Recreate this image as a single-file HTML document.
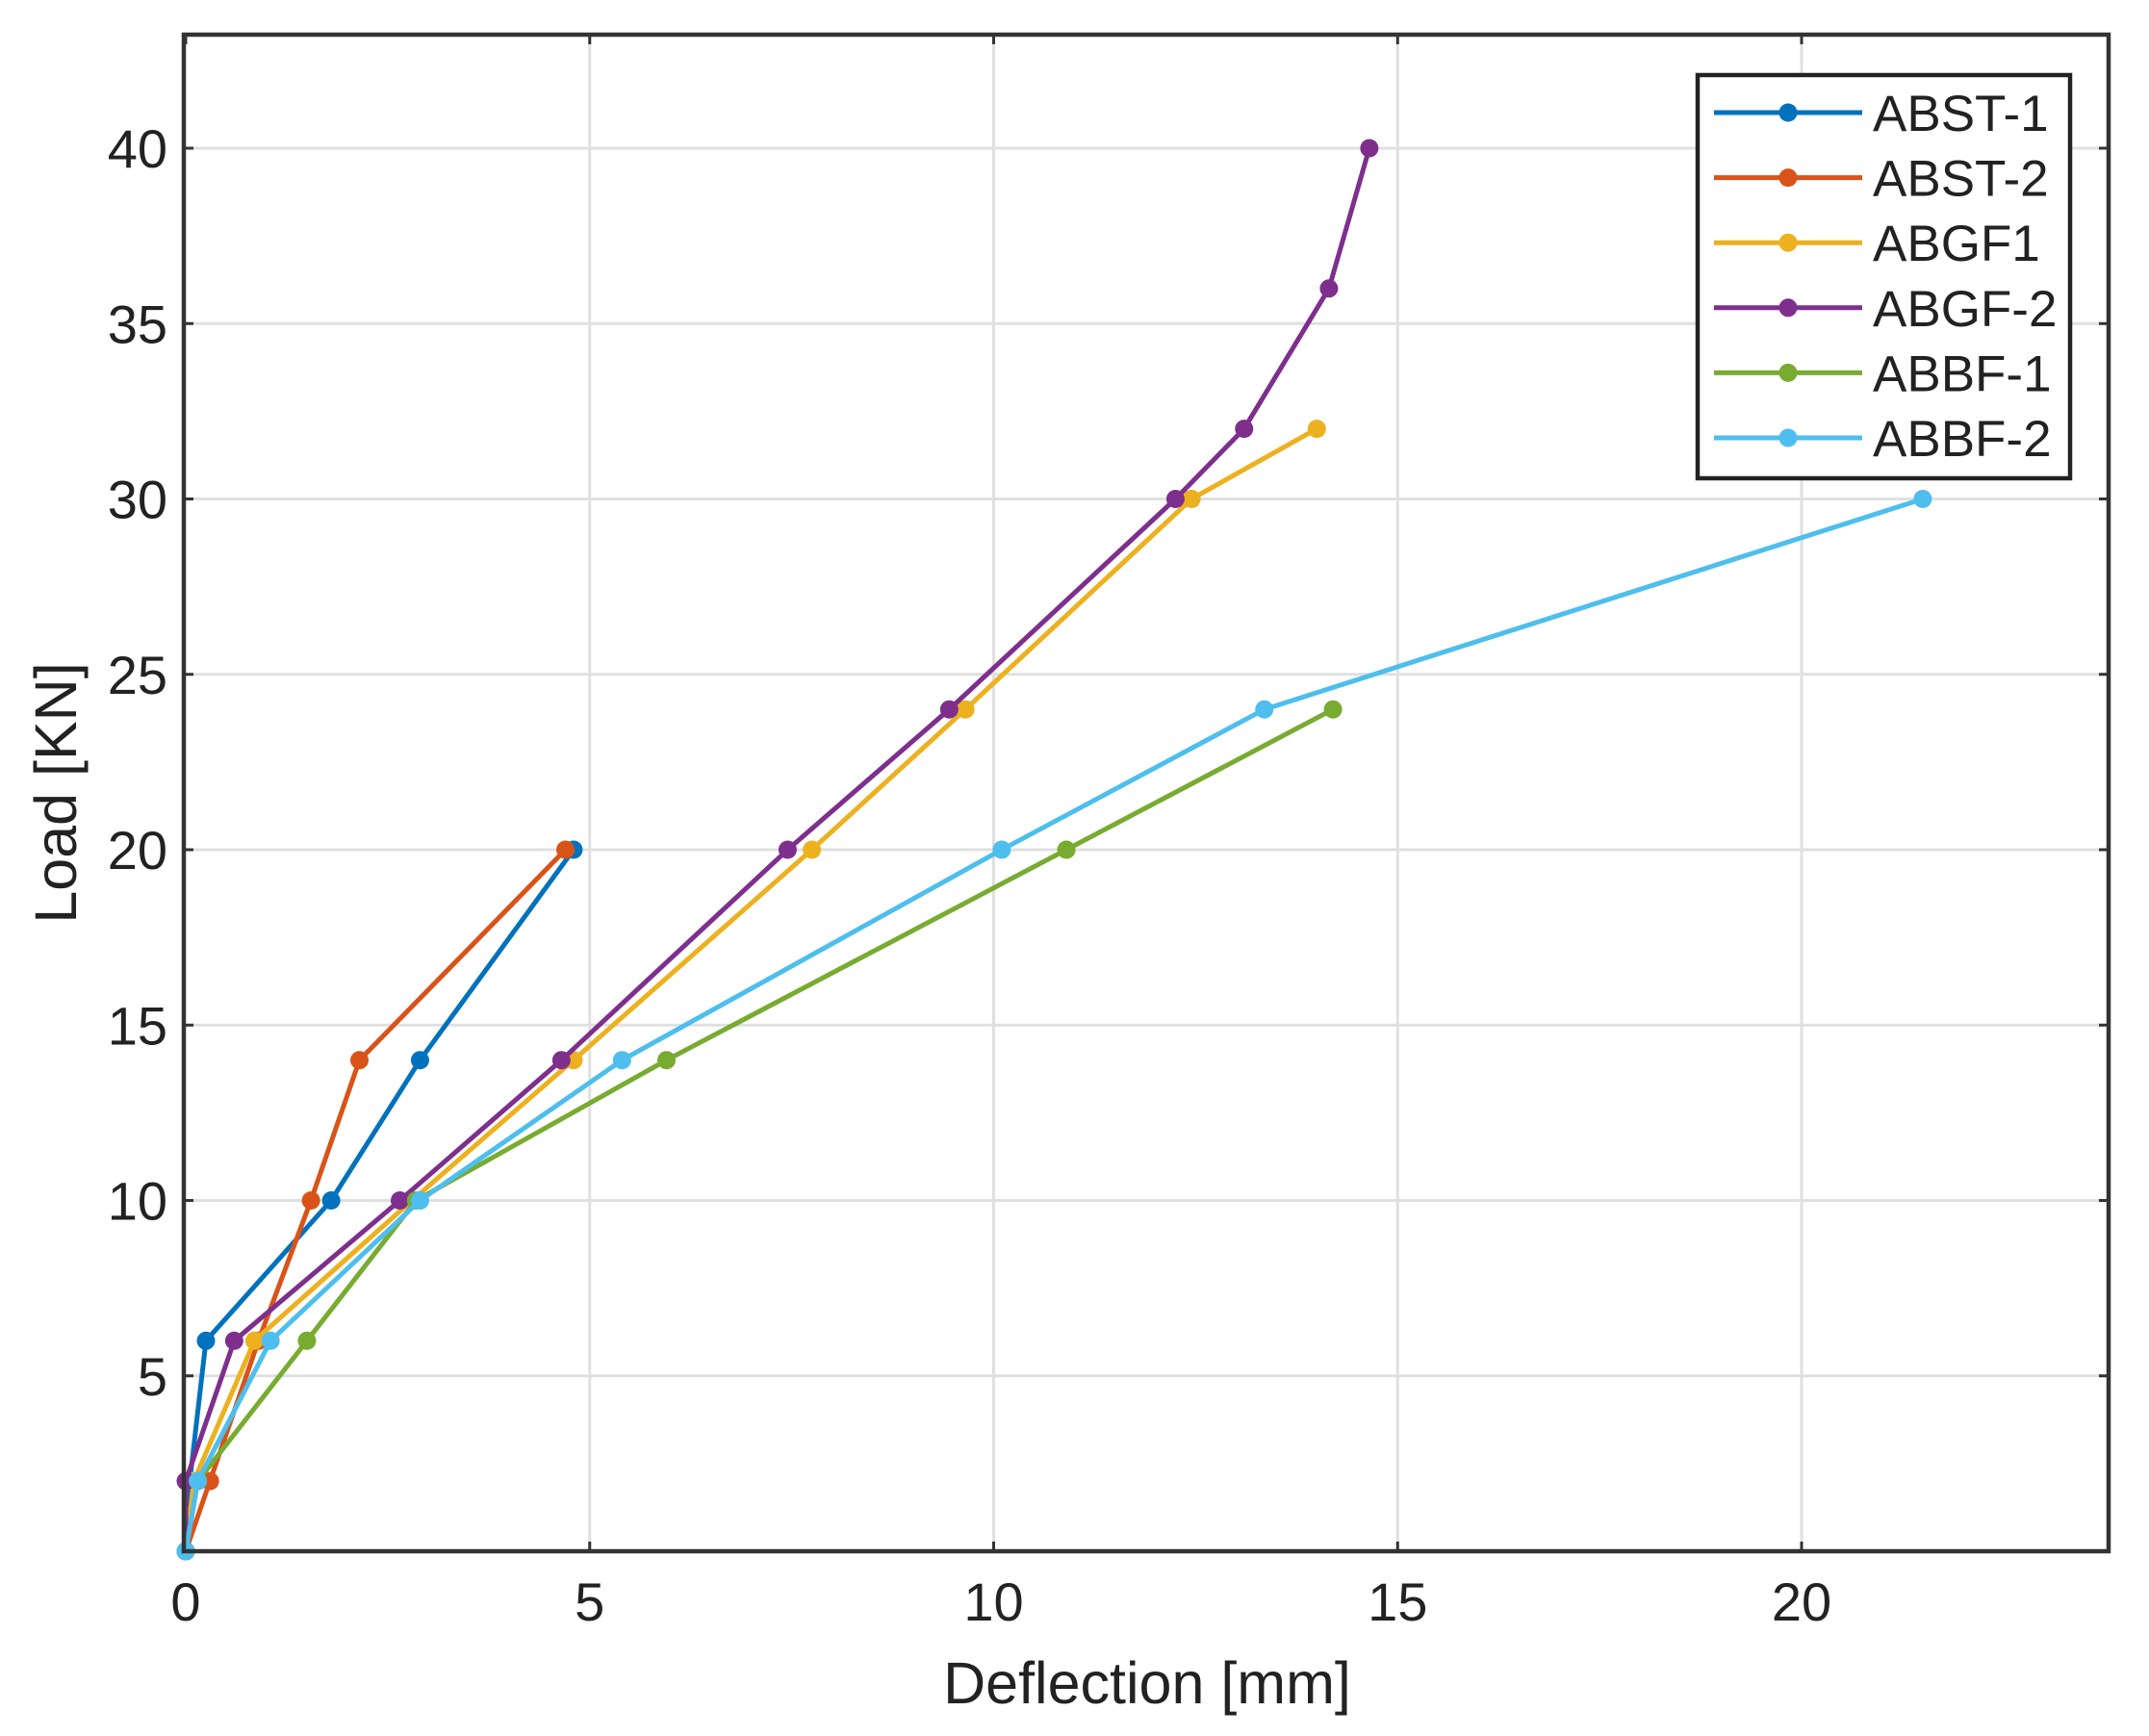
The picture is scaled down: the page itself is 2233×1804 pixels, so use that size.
<!DOCTYPE html>
<html><head><meta charset="utf-8"><style>
html,body{margin:0;padding:0;background:#fff;}
svg{display:block;}
text{font-family:"Liberation Sans",Arial,sans-serif;fill:#222;}
</style></head><body>
<svg id="s" width="2233" height="1804" viewBox="0 0 2233 1804" xmlns="http://www.w3.org/2000/svg"></svg>
<script>
const s=document.getElementById('s');
const X0=193,Y0=1612,SX=83.95,SY=36.45,L=191,R=2191,T=36,B=1612;
const px=x=>X0+x*SX, py=y=>Y0-y*SY;
let h='<rect x="0" y="0" width="2233" height="1804" fill="#fff"/>';
for(let x=5;x<=20;x+=5)h+=`<line x1="${px(x)}" y1="${T}" x2="${px(x)}" y2="${B}" stroke="#e0e0e0" stroke-width="3"/>`;
for(let y=5;y<=40;y+=5)h+=`<line x1="${L}" y1="${py(y)}" x2="${R}" y2="${py(y)}" stroke="#e0e0e0" stroke-width="3"/>`;
for(let x=0;x<=20;x+=5){h+=`<line x1="${px(x)}" y1="${B}" x2="${px(x)}" y2="${B-10}" stroke="#333" stroke-width="3"/><line x1="${px(x)}" y1="${T}" x2="${px(x)}" y2="${T+10}" stroke="#333" stroke-width="3"/>`;
 h+=`<text x="${px(x)}" y="1684" font-size="56" text-anchor="middle">${x}</text>`;}
for(let y=5;y<=40;y+=5){h+=`<line x1="${L}" y1="${py(y)}" x2="${L+10}" y2="${py(y)}" stroke="#333" stroke-width="3"/><line x1="${R}" y1="${py(y)}" x2="${R-10}" y2="${py(y)}" stroke="#333" stroke-width="3"/>`;
 h+=`<text x="174" y="${py(y)+20}" font-size="56" text-anchor="end">${y}</text>`;}
const C=['#0072BD','#D95319','#EDB120','#7E2F8E','#77AC30','#4DBEEE'];
const D=[
[[0,0],[0.05,2],[0.25,6],[1.8,10],[2.9,14],[4.8,20]],
[[0,0],[0.3,2],[0.9,6],[1.55,10],[2.15,14],[4.7,20]],
[[0,0],[0.1,2],[0.85,6],[2.8,10],[4.8,14],[7.75,20],[9.65,24],[12.45,30],[14,32]],
[[0,0],[0,2],[0.6,6],[2.65,10],[4.65,14],[7.45,20],[9.45,24],[12.25,30],[13.1,32],[14.15,36],[14.65,40]],
[[0,0],[0.15,2],[1.5,6],[2.85,10],[5.95,14],[10.9,20],[14.2,24]],
[[0,0],[0.15,2],[1.05,6],[2.9,10],[5.4,14],[10.1,20],[13.35,24],[21.5,30]]];
D.forEach((d,i)=>{h+=`<polyline fill="none" stroke="${C[i]}" stroke-width="5" stroke-linejoin="round" points="${d.map(p=>px(p[0])+','+py(p[1])).join(' ')}"/>`;
 d.forEach(p=>h+=`<circle cx="${px(p[0])}" cy="${py(p[1])}" r="9.5" fill="${C[i]}"/>`);});
h+=`<rect x="${L}" y="${T}" width="${R-L}" height="${B-T}" fill="none" stroke="#333" stroke-width="4.5"/>`;
h+=`<rect x="1764" y="78" width="387" height="419" fill="#fff" stroke="#222" stroke-width="4.5"/>`;
const N=['ABST-1','ABST-2','ABGF1','ABGF-2','ABBF-1','ABBF-2'];
N.forEach((n,i)=>{const y=117+i*67.6;h+=`<line x1="1781" y1="${y}" x2="1935" y2="${y}" stroke="${C[i]}" stroke-width="5"/><circle cx="1858" cy="${y}" r="9.5" fill="${C[i]}"/><text x="1946" y="${y+19}" font-size="53" fill="#111">${n}</text>`;});
h+=`<text x="1192" y="1770" font-size="61" text-anchor="middle">Deflection [mm]</text>`;
h+=`<text x="0" y="0" font-size="61" text-anchor="middle" transform="translate(79,824) rotate(-90)">Load [KN]</text>`;
s.innerHTML=h;
</script>
</body></html>
